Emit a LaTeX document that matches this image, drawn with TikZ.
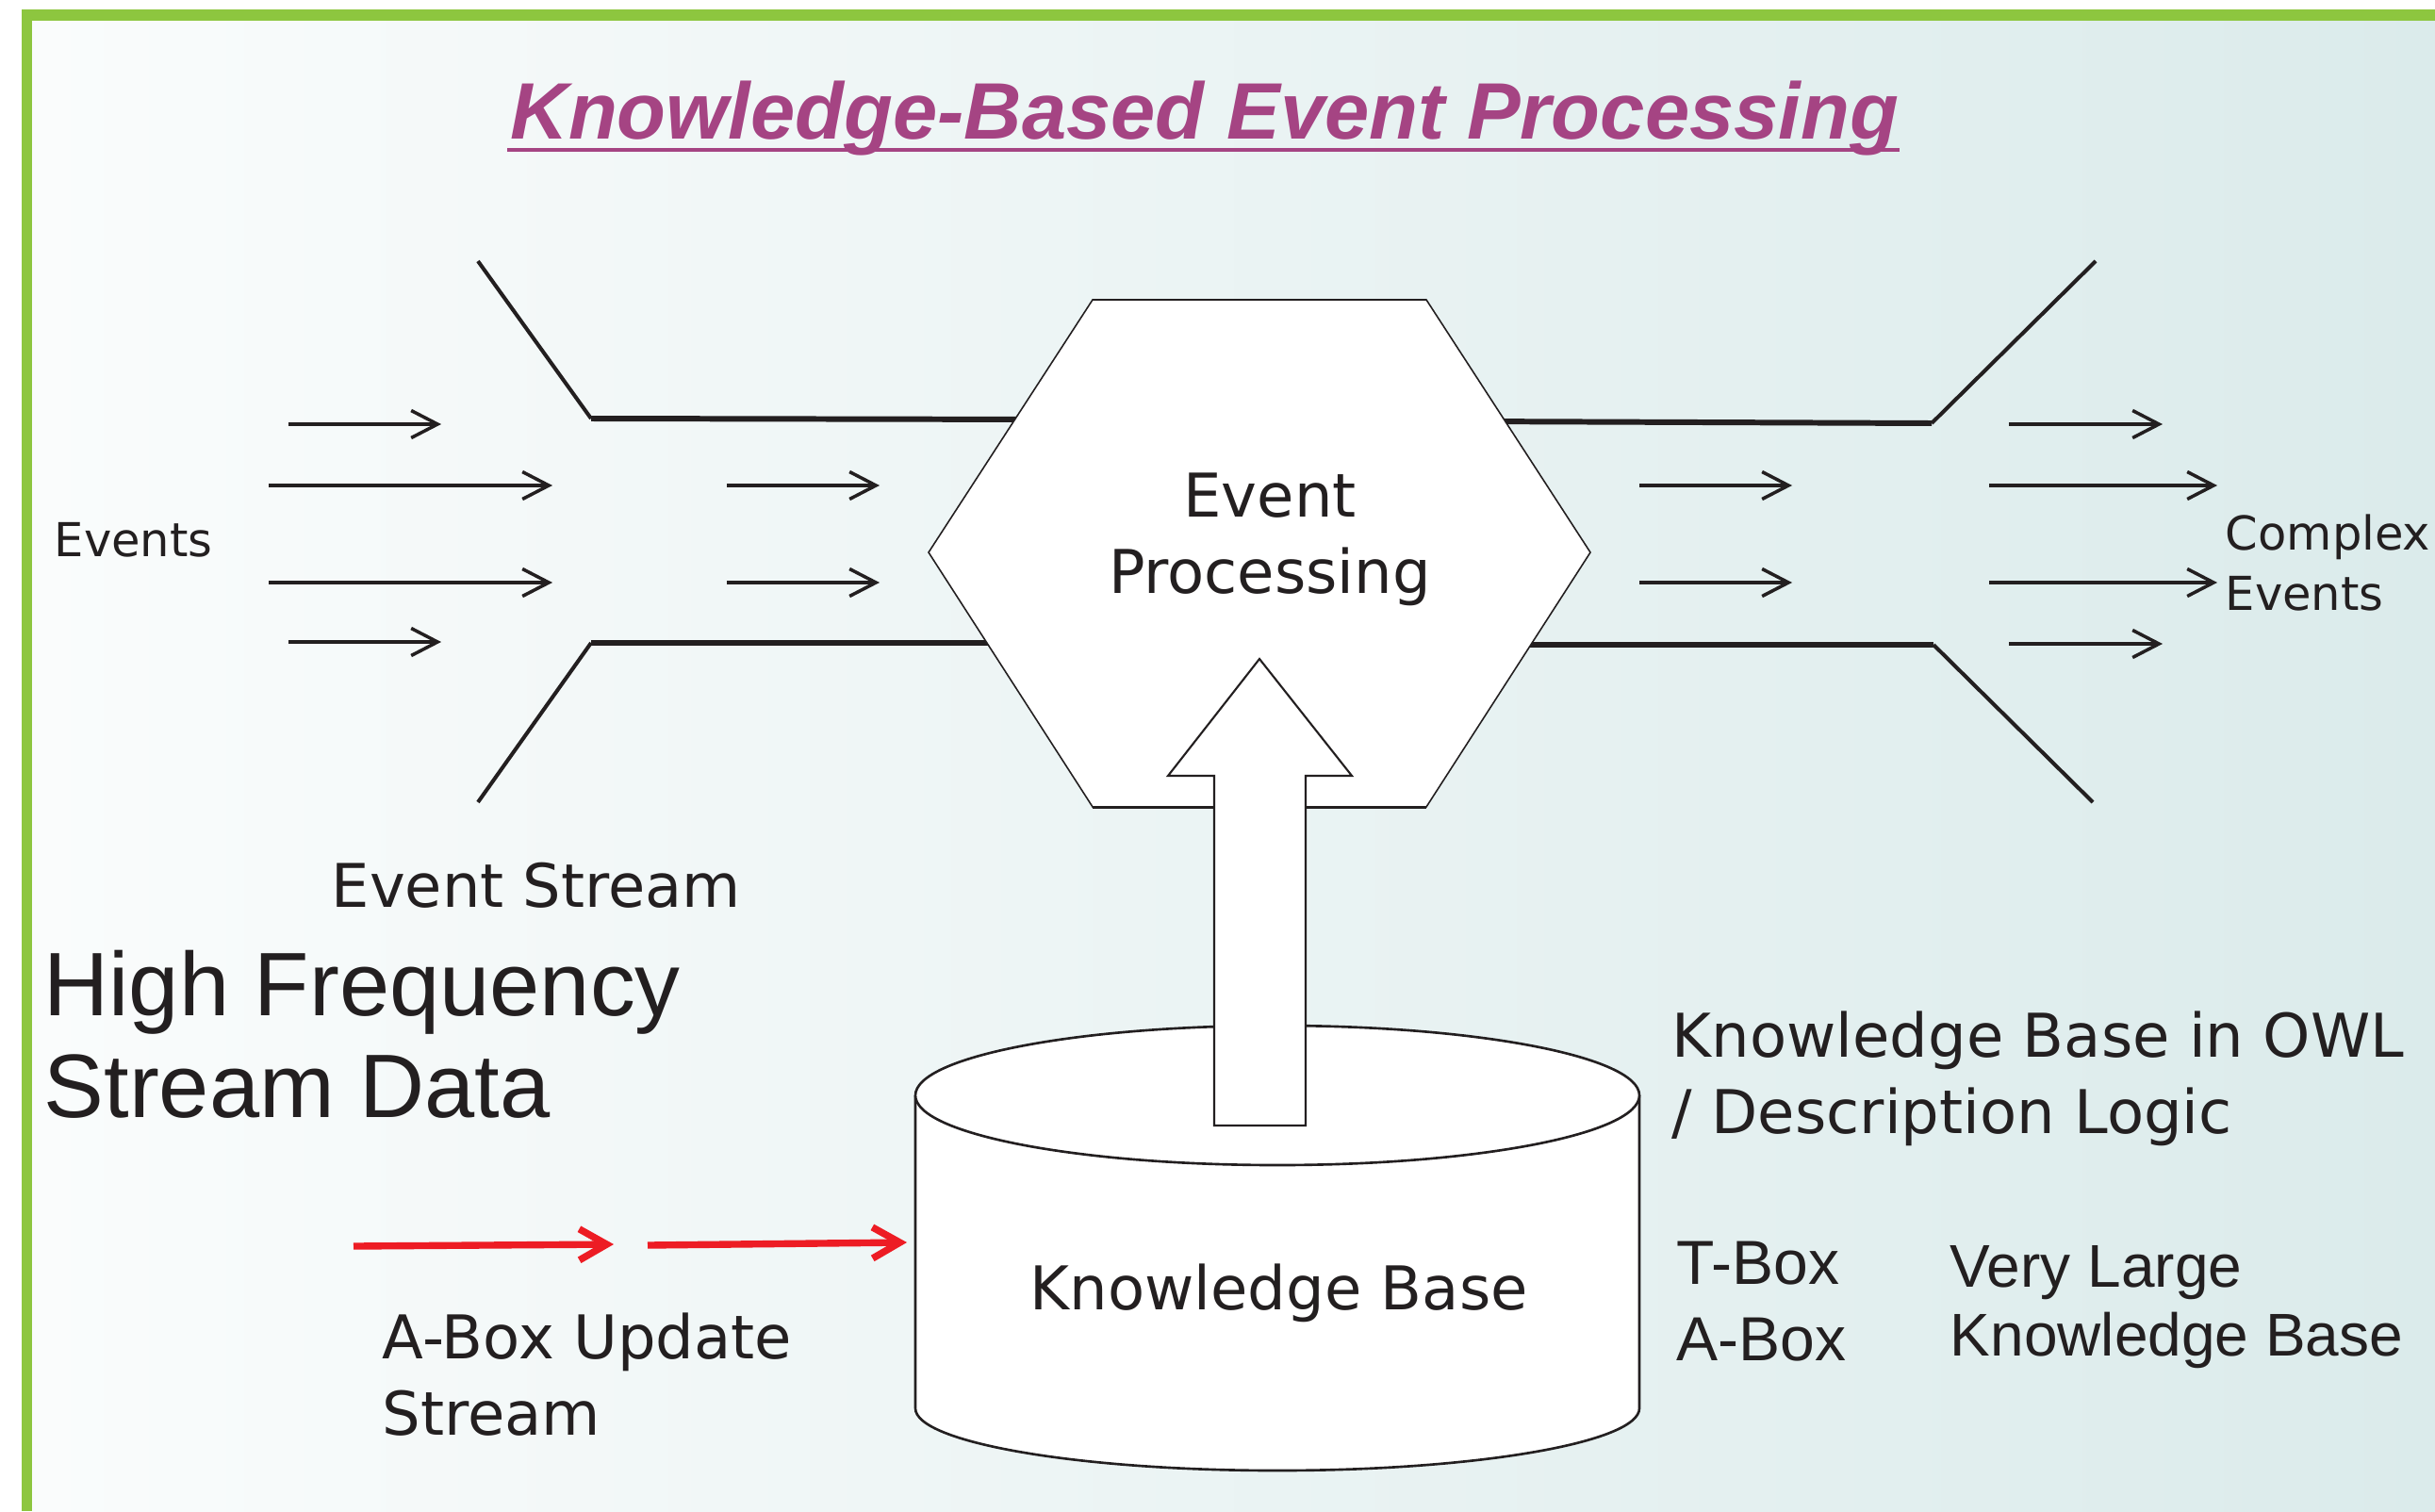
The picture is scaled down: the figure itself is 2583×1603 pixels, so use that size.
\documentclass[tikz,border=0pt]{standalone}
\usepackage{fontspec}
\setmainfont{DejaVu Sans}
\newfontfamily\arialfont{Liberation Sans}
\usetikzlibrary{arrows.meta,calc}

\definecolor{inkblack}{RGB}{35,31,32}
\definecolor{framegreen}{RGB}{141,198,63}
\definecolor{titlemag}{RGB}{165,68,131}
\definecolor{bgleft}{RGB}{250,252,252}
\definecolor{bgright}{RGB}{219,235,235}
\definecolor{updred}{RGB}{237,28,36}

\newcommand{\pxfont}[2]{\fontsize{#1}{#2}\selectfont}

\tikzset{
  lbl/.style={inner sep=0pt,anchor=base west,align=left,text=inkblack},
  funnel/.style={draw=inkblack,line width=1.15pt},
  rail/.style={draw=inkblack,line width=1.7pt},
  evarrow/.style={draw=inkblack,line width=1pt,-{Straight Barb[length=0.28cm,width=0.29cm]}},
  updarrow/.style={draw=updred,line width=2.1pt,-{Straight Barb[length=0.29cm,width=0.33cm]}},
  solid shape/.style={fill=white,draw=inkblack}
}

\begin{document}
\begin{tikzpicture}[x=0.01cm,y=-0.01cm]
  \useasboundingbox (0,0) rectangle (2583,1603);
  \fill[white] (0,0) rectangle (2583,1603);
  \shade[left color=bgleft,right color=bgright] (34,22) rectangle (2583,1603);
  \fill[framegreen] (23,10) rectangle (2583,22);
  \fill[framegreen] (23,10) rectangle (34,1603);

  \node[lbl,font=\arialfont\bfseries\itshape\pxfont{24.15}{28},text=titlemag] (title) at (541,148) {Knowledge-Based Event Processing};
  \draw[titlemag,line width=1.15pt] ($(title.base west)+(-3,11)$) -- ($(title.base east)+(0,11)$);

  % stream in / stream out
  \draw[funnel] (507,277) -- (627,444);
  \draw[funnel] (507,851) -- (627,682);
  \draw[rail] (627,444) -- (1120,445);
  \draw[rail] (627,682) -- (1100,682);
  \draw[rail] (1560,447) -- (2049,449);
  \draw[rail] (1560,684) -- (2051,684);
  \draw[funnel] (2049,449) -- (2223,277);
  \draw[funnel] (2051,684) -- (2220,851);
  \foreach \xa/\xb/\y in {306/468/450, 285/586/515, 285/586/618, 306/468/681,
                          771/933/515, 771/933/618, 1739/1901/515, 1739/1901/618,
                          2131/2294/450, 2110/2352/515, 2110/2352/618, 2131/2294/683}
    \draw[evarrow] (\xa,\y) -- (\xb,\y);

  \filldraw[solid shape,line width=0.45pt] (985,586) -- (1159,318) -- (1513,318) -- (1687,586) -- (1513,856) -- (1159,856) -- cycle;
  \draw[inkblack,line width=0.85pt] (1159,318) -- (1513,318) (1159,856) -- (1513,856);
  \node[inner sep=0pt,align=center,text=inkblack,font=\pxfont{18.2}{23.05}] (ep) at (1347,572) {Event\\Processing};

  % knowledge base drum
  \filldraw[solid shape,line width=0.75pt] (971,1162) -- (971,1494)
    .. controls (971,1530) and (1143,1560) .. (1355,1560)
    .. controls (1567,1560) and (1739,1530) .. (1739,1494) -- (1739,1162);
  \filldraw[solid shape,line width=0.75pt] (1355,1162) ellipse [x radius=384,y radius=74];
  \node[lbl,font=\pxfont{18.2}{22.8}] (kb) at (1092,1389) {Knowledge Base};
  \coordinate (kbwest) at (962,1318);

  \filldraw[solid shape,line width=0.6pt] (1336,699) -- (1434,823) -- (1385,823) -- (1385,1194)
    -- (1288,1194) -- (1288,823) -- (1239,823) -- cycle;

  \coordinate (updstart) at (375,1322);
  \coordinate (updmid) at (687,1321);
  \draw[updarrow] (updstart) -- (651,1320);
  \draw[updarrow] (updmid) -- (kbwest);

  \node[lbl,font=\pxfont{14.1}{17.9}] (events) at (57,590) {Events};
  \node[lbl,font=\pxfont{14.1}{17.93}] (cplx) at (2360,647) {Complex\\Events};
  \node[lbl,font=\pxfont{18.15}{22.8}] (estream) at (351,962) {Event Stream};
  \node[lbl,font=\arialfont\pxfont{27.2}{30.44}] (hfsd) at (46,1185) {High Frequency\\Stream Data};
  \node[lbl,font=\pxfont{18.2}{22.76}] (aboxupd) at (405,1522) {A-Box Update\\Stream};
  \node[lbl,font=\pxfont{18.2}{22.76}] (owl) at (1773,1202) {Knowledge Base in OWL\\/ Description Logic};
  \node[lbl,font=\arialfont\pxfont{18.78}{22.76}] (tabox) at (1778,1443) {T-Box\\A-Box};
  \node[lbl,font=\arialfont\pxfont{18.2}{20.5}] (vlkb) at (2068,1438) {Very Large\\Knowledge Base};
\end{tikzpicture}
\end{document}
